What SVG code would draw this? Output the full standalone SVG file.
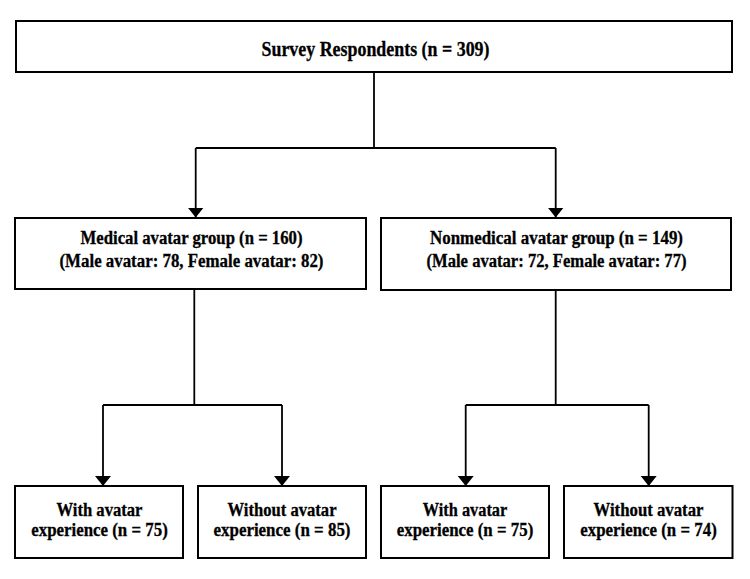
<svg xmlns="http://www.w3.org/2000/svg" width="750" height="579" viewBox="0 0 750 579">
<defs>
<marker id="arr" markerUnits="userSpaceOnUse" markerWidth="12" markerHeight="18" refX="10" refY="8" orient="auto">
<path d="M0,0 L10,8 L0,16 Z" fill="#000"/>
</marker>
<style>
.box{fill:#fff;stroke:#000;stroke-width:2}
.t{font-family:'Liberation Serif','Times New Roman','DejaVu Serif',serif;font-weight:700;font-size:18px;fill:#000;stroke:#000;stroke-width:0.3;text-anchor:middle}
.c{fill:none;stroke:#000;stroke-width:1.8}
</style>
</defs>
<rect width="750" height="579" fill="#fff"/>
<g id="connectors">
<path class="c" d="M374,72 V148"/>
<path class="c" d="M195.7,148 H555.7"/>
<path class="c" d="M195.7,148 V217.5" marker-end="url(#arr)"/>
<path class="c" d="M555.7,148 V217.5" marker-end="url(#arr)"/>
<path class="c" d="M194.3,289 V405"/>
<path class="c" d="M103,405 H282"/>
<path class="c" d="M103,405 V486" marker-end="url(#arr)"/>
<path class="c" d="M282,405 V486" marker-end="url(#arr)"/>
<path class="c" d="M555.7,290 V405"/>
<path class="c" d="M465.7,405 H648.7"/>
<path class="c" d="M465.7,405 V486" marker-end="url(#arr)"/>
<path class="c" d="M648.7,405 V486" marker-end="url(#arr)"/>
</g>
<g id="survey">
<rect class="box" x="16" y="21" width="716" height="51"/>
<text class="t" x="375.5" y="56" style="font-size:21px" textLength="228" lengthAdjust="spacingAndGlyphs">Survey Respondents (n = 309)</text>
</g>
<g id="medical">
<rect class="box" x="15" y="218" width="351" height="71"/>
<text class="t" x="191.5" y="244" textLength="222" lengthAdjust="spacingAndGlyphs">Medical avatar group (n = 160)</text>
<text class="t" x="191.5" y="267" textLength="264" lengthAdjust="spacingAndGlyphs">(Male avatar: 78, Female avatar: 82)</text>
</g>
<g id="nonmedical">
<rect class="box" x="381" y="218" width="350" height="72"/>
<text class="t" x="556.5" y="244" textLength="253" lengthAdjust="spacingAndGlyphs">Nonmedical avatar group (n = 149)</text>
<text class="t" x="556.5" y="267" textLength="260" lengthAdjust="spacingAndGlyphs">(Male avatar: 72, Female avatar: 77)</text>
</g>
<g id="med-with">
<rect class="box" x="15" y="486" width="168" height="72"/>
<text class="t" x="99.5" y="516" textLength="86" lengthAdjust="spacingAndGlyphs">With avatar</text>
<text class="t" x="99.5" y="535.5" textLength="136.5" lengthAdjust="spacingAndGlyphs">experience (n = 75)</text>
</g>
<g id="med-without">
<rect class="box" x="198" y="486" width="168" height="72"/>
<text class="t" x="282" y="516" textLength="109" lengthAdjust="spacingAndGlyphs">Without avatar</text>
<text class="t" x="282" y="535.5" textLength="137" lengthAdjust="spacingAndGlyphs">experience (n = 85)</text>
</g>
<g id="nonmed-with">
<rect class="box" x="381" y="486" width="168" height="72"/>
<text class="t" x="465" y="516" textLength="84.5" lengthAdjust="spacingAndGlyphs">With avatar</text>
<text class="t" x="465" y="535.5" textLength="136.5" lengthAdjust="spacingAndGlyphs">experience (n = 75)</text>
</g>
<g id="nonmed-without">
<rect class="box" x="564" y="486" width="168.5" height="72"/>
<text class="t" x="648.5" y="516" textLength="110" lengthAdjust="spacingAndGlyphs">Without avatar</text>
<text class="t" x="648.5" y="535.5" textLength="136.5" lengthAdjust="spacingAndGlyphs">experience (n = 74)</text>
</g>
</svg>
